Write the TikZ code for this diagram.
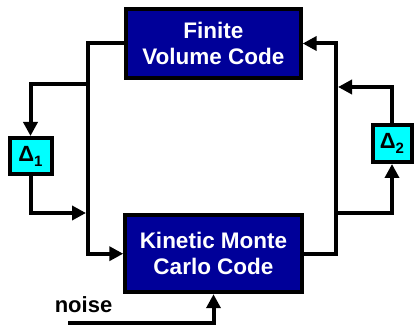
\documentclass[tikz,border=0pt]{standalone}
\usepackage{fontspec}
\setmainfont{Liberation Sans}
\usetikzlibrary{arrows.meta}
\definecolor{boxblue}{RGB}{0,0,153}
\definecolor{dcyan}{RGB}{0,255,255}
\begin{document}
\begin{tikzpicture}[x=1pt,y=-1pt,
  codebox/.style={draw=black,line width=4pt,fill=boxblue,text=white,
    font=\fontsize{22.5}{26}\selectfont\bfseries,align=center,inner sep=0pt},
  deltabox/.style={draw=black,line width=4pt,fill=dcyan,inner sep=0pt,
    font=\fontsize{22}{22}\selectfont\bfseries},
  wire/.style={line width=4pt,line join=miter},
  arr/.style={wire,-{Triangle[length=14pt,width=14pt]}}]
\useasboundingbox (0,0) rectangle (414,328);
\node[codebox,minimum width=174.5pt,minimum height=69pt] (fvc) at (213.4,43.5) {Finite\\Volume Code};
\node[codebox,minimum width=176.5pt,minimum height=77pt] (kmc) at (213.5,253.7) {Kinetic Monte\\Carlo Code};
\node[deltabox,minimum width=42pt,minimum height=36pt] (d1) at (30.5,156) {Δ\raisebox{-5pt}{\fontsize{15}{15}\selectfont 1}};
\node[deltabox,minimum width=39pt,minimum height=37pt] (d2) at (392,143.5) {Δ\raisebox{-5pt}{\fontsize{15}{15}\selectfont 2}};
\node[anchor=base,font=\fontsize{22}{26}\selectfont\bfseries,inner sep=0pt] (noise) at (83.5,312) {noise};
\coordinate (lx) at (88,150);
\coordinate (lb1) at (88,84);
\coordinate (lb2) at (86,213);
\coordinate (rx) at (336,150);
\coordinate (rb1) at (336,213);
\coordinate (rb2) at (338,87);
\coordinate (nz) at (68,323);
\draw[arr] (fvc.west) -| (lx) |- (kmc.west);
\draw[arr] (lb1) -| (d1.north);
\draw[arr] (d1.south) |- (lb2);
\draw[arr] (kmc.east) -| (rx) |- (fvc.east);
\draw[arr] (rb1) -| (d2.south);
\draw[arr] (d2.north) |- (rb2);
\draw[arr] (nz) -| (kmc.south);
\end{tikzpicture}
\end{document}
